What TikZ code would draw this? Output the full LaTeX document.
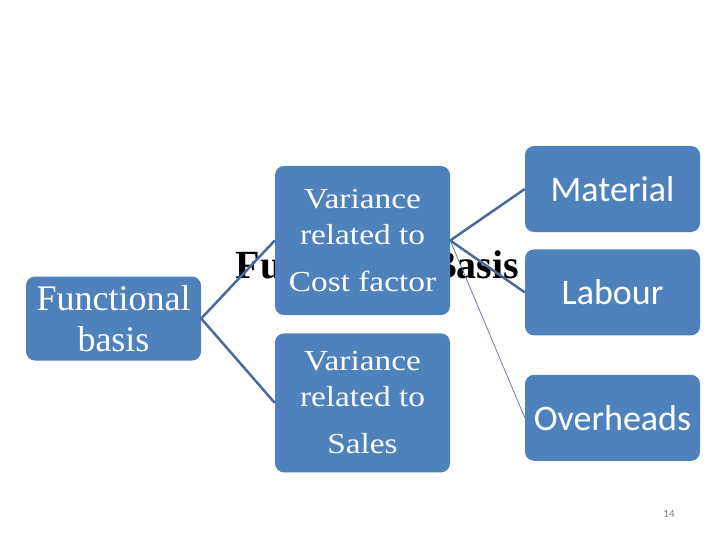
\documentclass[tikz,border=0pt]{standalone}
\usepackage{fontspec}
\setmainfont{Liberation Serif}
\newfontfamily\wideserif[FakeStretch=1.15]{Liberation Serif}
\newfontfamily\carlito{Carlito}
\usetikzlibrary{positioning}
\definecolor{BoxBlue}{RGB}{79,129,189}
\definecolor{LinkBlue}{RGB}{74,106,156}

\begin{document}
\begin{tikzpicture}[
  x=1pt,y=-1pt,
  box/.style={
    fill=BoxBlue,
    rounded corners=9pt,
    minimum width=175pt,
    text=white,
    align=center,
    inner sep=0pt
  },
  serifbox/.style={box, font=\wideserif\fontsize{29}{36}\selectfont},
  sansbox/.style={box, font=\carlito\fontsize{36}{40}\selectfont, minimum height=86pt},
  link/.style={draw=LinkBlue, line width=2.5pt},
  thinlink/.style={draw=LinkBlue!70!gray, line width=0.7pt},
  pagenum/.style={font=\carlito\fontsize{11}{13}\selectfont, text=gray}
]
\useasboundingbox[fill=white] (0,0) rectangle (720,540);
% title sits behind the boxes
\node[font=\bfseries\fontsize{40}{48}\selectfont, anchor=base] (title) at (377.5,278) {Functional Basis};

\node[box, font=\fontsize{36}{41}\selectfont, minimum height=84pt] (basis) at (113.5,318.5) {Functional\\basis};
\node[serifbox, minimum height=149pt] (costfactor) at (362.5,240.5) {Variance\\related to\\[11pt]Cost factor};
\node[serifbox, minimum height=139pt, below=18pt of costfactor] (sales) {Variance\\related to\\[11pt]Sales};

\node[sansbox] (material) at (612.5,189) {Material};
\node[sansbox, below=17pt of material] (labour) {Labour};
\node[sansbox, below=39pt of labour] (overheads) {Overheads};

\draw[link] (basis.east) -- (costfactor.west);
\draw[link] (basis.east) -- (sales.west);
\draw[link] (costfactor.east) -- (material.west);
\draw[link] (costfactor.east) -- (labour.west);
\draw[thinlink] (costfactor.east) -- (overheads.west);

\node[pagenum] (page) at (669,514) {14};
\end{tikzpicture}
\end{document}
